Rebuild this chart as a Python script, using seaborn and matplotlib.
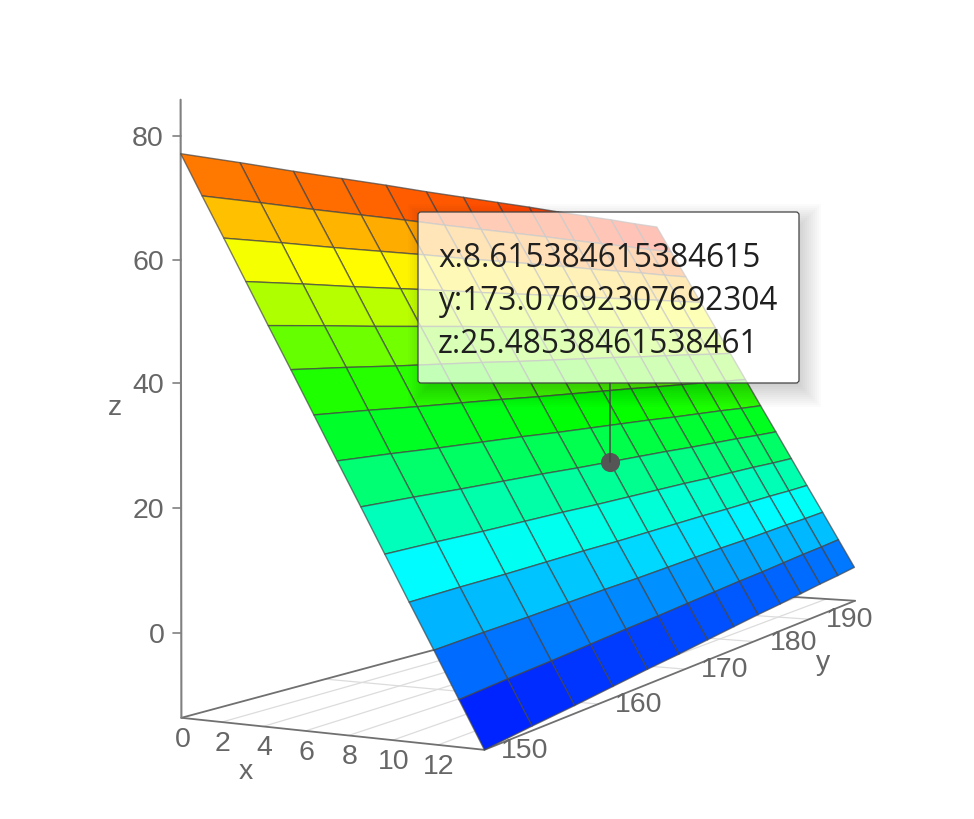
import numpy as np
import matplotlib
matplotlib.use('Agg')
import matplotlib.pyplot as plt
from matplotlib.lines import Line2D
from matplotlib.patches import FancyBboxPatch, Rectangle
from matplotlib.path import Path
from matplotlib.transforms import Affine2D
from mpl_toolkits.mplot3d import proj3d
import seaborn as sns

W, H = 974, 820

x_values = [0, 1.0769, 2.1538, 3.2308, 4.3077, 5.3846, 6.4615, 7.5385, 8.6154, 9.6923, 10.7692, 11.8462, 12.9231, 14]
y_values = [150, 153.846, 157.692, 161.538, 165.385, 169.231, 173.077, 176.923, 180.769, 184.615, 188.462, 192.308, 196.154, 200]
z_rows = [
    [77.2, 77.9, 78.5, 79.2, 79.9, 80.5, 81.2, 81.9, 82.6, 83.2, 83.9, 84.6, 85.2, 85.9],
    [70.2, 70.9, 71.5, 72.2, 72.9, 73.5, 74.2, 74.9, 75.6, 76.2, 76.9, 77.6, 78.2, 78.9],
    [63.3, 64.0, 64.6, 65.3, 66.0, 66.6, 67.3, 68.0, 68.7, 69.3, 70.0, 70.7, 71.3, 72.0],
    [56.3, 57.0, 57.6, 58.3, 59.0, 59.6, 60.3, 61.0, 61.7, 62.3, 63.0, 63.7, 64.3, 65.0],
    [49.3, 50.0, 50.6, 51.3, 52.0, 52.6, 53.3, 54.0, 54.7, 55.3, 56.0, 56.7, 57.3, 58.0],
    [42.4, 43.1, 43.7, 44.4, 45.1, 45.7, 46.4, 47.1, 47.8, 48.4, 49.1, 49.8, 50.4, 51.1],
    [35.4, 36.1, 36.7, 37.4, 38.1, 38.7, 39.4, 40.1, 40.8, 41.4, 42.1, 42.8, 43.4, 44.1],
    [28.4, 29.1, 29.7, 30.4, 31.1, 31.7, 32.4, 33.1, 33.8, 34.4, 35.1, 35.8, 36.4, 37.1],
    [21.5, 22.2, 22.8, 23.5, 24.2, 24.8, 25.5, 26.2, 26.9, 27.5, 28.2, 28.9, 29.5, 30.2],
    [14.5, 15.2, 15.8, 16.5, 17.2, 17.8, 18.5, 19.2, 19.9, 20.5, 21.2, 21.9, 22.5, 23.2],
    [7.5, 8.2, 8.8, 9.5, 10.2, 10.8, 11.5, 12.2, 12.9, 13.5, 14.2, 14.9, 15.5, 16.2],
    [0.6, 1.3, 1.9, 2.6, 3.3, 3.9, 4.6, 5.3, 6.0, 6.6, 7.3, 8.0, 8.6, 9.3],
    [-6.4, -5.7, -5.1, -4.4, -3.7, -3.1, -2.4, -1.7, -1.0, -0.4, 0.3, 1.0, 1.6, 2.3],
    [-13.4, -12.7, -12.1, -11.4, -10.7, -10.1, -9.4, -8.7, -8.0, -7.4, -6.7, -6.0, -5.4, -4.7],
]
x_ticks = [0, 2, 4, 6, 8, 10, 12]
y_ticks = [150, 160, 170, 180, 190]
z_ticks = [0, 20, 40, 60, 80]
x_range = (0, 14)
y_range = (150, 200)
z_range = (-13.4, 86)
hover_x = 8.615384615384615
hover_y = 173.07692307692304
hover_z = 25.48538461538461
ramp_colors = ['#0000ff', '#00ffff', '#00ff00', '#ffff00', '#ff0000']

# camera of the original 3D view, fitted on points
# (x, y, z) -> (pixel x, pixel y from top)
camera_points = [
    ((0, 150, -13.4), (181, 718)),
    ((14, 150, -13.4), (484, 750)),
    ((14, 200, -13.4), (855, 602)),
    ((0, 200, -13.4), (662, 589)),
    ((0, 150, 86), (181, 100)),
    ((0, 150, 80), (181, 137)),
    ((0, 150, 60), (181, 261)),
    ((0, 150, 40), (181, 386)),
    ((0, 150, 20), (181, 510)),
    ((0, 150, 0), (181, 635)),
    ((0, 150, 77.2), (181, 154)),
    ((14, 200, -4.7), (855, 568)),
    ((0, 200, 85.9), (656, 228)),
    ((8.615, 173.08, 25.5), (610, 464)),
    ((8.615, 173.08, 25.5), (610, 464)),
    ((7.5385, 150, 28.4), (337, 460)),
    ((14, 176.923, -8.7), (733, 628)),
]
# the square axes are W px wide, centred on the figure
half = W / 2
mid_u, mid_v = W / 2, H / 2


def fit_camera():
    """Least squares 3x4 camera, returned as the 4x4 matrix mplot3d wants."""
    norm = np.diag([1 / 14, 1 / 50, 1 / 99.4, 1.0])
    norm[:3, 3] = [0, -3, 13.4 / 99.4]
    rows = []
    for world, pix in camera_points:
        p = norm @ np.array([*world, 1.0])
        u, v = (pix[0] - mid_u) / half, (pix[1] - mid_v) / half
        rows.append(np.r_[p, np.zeros(4), -u * p])
        rows.append(np.r_[np.zeros(4), p, -v * p])
    cam = np.linalg.svd(np.array(rows))[2][-1].reshape(3, 4)
    mid = np.array([.5, .5, .5, 1.0])
    if cam[2] @ mid < 0:
        cam = -cam
    w = cam[2]
    # third row only gives the depth order
    depth = w - np.array([0, 0, 0, 0.5 * (w @ mid)])
    return np.vstack([cam[0], cam[1], depth, w]) @ norm


sns.set_theme(style='white')
plt.rcParams['font.family'] = ['Liberation Sans', 'DejaVu Sans']

fig = plt.figure(figsize=(W / 100, H / 100), dpi=100, facecolor='white')
ax = fig.add_axes([0, -77 / H, 1, W / H], projection='3d')
ax.set_axis_off()
ax.computed_zorder = False
# ortho only switches off the point clipping, the matrix below is the real view
ax.set_proj_type('ortho')
ax.set_xlim(*x_range)
ax.set_ylim(*y_range)
ax.set_zlim(*z_range)
M = fit_camera()
ax.get_proj = lambda: M
ax.viewLim.intervalx = (-1, 1)
ax.viewLim.intervaly = (1, -1)

px = Affine2D().scale(1, -1).translate(0, H)


def to_px(x, y, z):
    u, v, _ = proj3d.proj_transform(np.array([x]), np.array([y]), np.array([z]), M)
    return float(u[0]) * half + mid_u, float(v[0]) * half + mid_v


X, Y = np.meshgrid(x_values, y_values, indexing='ij')
Z = np.array(z_rows)

# one flat colour per cell, from the mean height of its corners
ramp = sns.blend_palette(ramp_colors, as_cmap=True)
cells = (Z[:-1, :-1] + Z[1:, :-1] + Z[:-1, 1:] + Z[1:, 1:]) / 4
cell_colors = ramp((cells - z_range[0]) / (z_range[1] - z_range[0]))

# floor grid
floor = z_range[0]
for xt in x_ticks[1:]:
    ax.plot([xt, xt], y_range, [floor, floor], color='#dcdcdc', lw=0.9, zorder=1)
for yt in y_ticks[1:]:
    ax.plot(x_range, [yt, yt], [floor, floor], color='#dcdcdc', lw=0.9, zorder=1)

# axis lines
axis_color = '#707070'
ax.plot(x_range, [150, 150], [floor, floor], color=axis_color, lw=1.3, zorder=2)
ax.plot([0, 0], y_range, [floor, floor], color=axis_color, lw=1.3, zorder=2)
ax.plot([14, 14], y_range, [floor, floor], color=axis_color, lw=1.3, zorder=2)
ax.plot(x_range, [200, 200], [floor, floor], color=axis_color, lw=1.3, zorder=2)
ax.plot([0, 0], [150, 150], z_range, color='#808080', lw=1.5, zorder=2)

ax.plot_surface(X, Y, Z, facecolors=cell_colors, rstride=1, cstride=1, shade=False,
                edgecolor=(0.27, 0.27, 0.27, 0.7), linewidth=1.0, antialiased=True, zorder=3)

ax.scatter([hover_x], [hover_y], [hover_z], s=190, color='#555555', depthshade=False,
           linewidths=0, zorder=6)

# tick labels
label_color = '#666666'
label_size = 20.5
for xt in x_ticks:
    u, v = to_px(xt, 150, floor)
    fig.text(u + 1, v + 21, str(xt), transform=px, ha='center', va='center',
             fontsize=label_size, color=label_color)
for yt in y_ticks:
    u, v = to_px(14, yt, floor)
    fig.text(u + 40, v, str(yt), transform=px, ha='center', va='center',
             fontsize=label_size, color=label_color)
for zt in z_ticks:
    u, v = to_px(0, 150, zt)
    fig.text(u - 17, v + 2, str(zt), transform=px, ha='right', va='center',
             fontsize=label_size, color=label_color)
    fig.add_artist(Line2D([u - 8, u], [v, v], transform=px, color='#808080', lw=1.2))

fig.text(246, 772, 'x', transform=px, ha='center', va='center', fontsize=label_size, color=label_color)
fig.text(823, 663, 'y', transform=px, ha='center', va='center', fontsize=label_size, color=label_color)
fig.text(115, 408, 'z', transform=px, ha='center', va='center', fontsize=label_size, color=label_color)

# tooltip, soft shadow first, kept out of the box itself
box_l, box_t, box_r, box_b = 418, 213, 799, 384
codes = [Path.MOVETO, Path.LINETO, Path.LINETO, Path.LINETO, Path.CLOSEPOLY]
whole = [(0, 0), (W, 0), (W, H), (0, H), (0, 0)]
hole = [(box_l, box_t), (box_l, box_b), (box_r, box_b), (box_r, box_t), (box_l, box_t)]
outside = Path(whole + hole, codes + codes)
for grow in range(-10, 18, 2):
    shadow = Rectangle((box_l - grow + 6, box_t - grow + 8), box_r - box_l + 2 * grow,
                       box_b - box_t + 2 * grow, transform=px, facecolor='black',
                       edgecolor='none', alpha=0.016, zorder=2)
    shadow.set_clip_path(outside, px)
    fig.add_artist(shadow)

u, v = to_px(hover_x, hover_y, hover_z)
fig.add_artist(Line2D([u, u], [box_b, v], transform=px, color='#444444', lw=1.1, zorder=3))
fig.add_artist(FancyBboxPatch((box_l + 2, box_t + 2), box_r - box_l - 4, box_b - box_t - 4,
                              boxstyle='round,pad=2,rounding_size=3', transform=px,
                              facecolor=(1, 1, 1, 0.72), edgecolor='#444444', lw=0.9, zorder=3))
tip_lines = [f'x:{hover_x}', f'y:{hover_y}', f'z:{hover_z}']
for line, base in zip(tip_lines, [267, 310, 353]):
    fig.text(438, base, line, transform=px, ha='left', va='baseline', fontsize=22.8,
             family=['Open Sans', 'DejaVu Sans'], color='#1f1f1f', zorder=4)

fig.savefig('out.png', dpi=100)
